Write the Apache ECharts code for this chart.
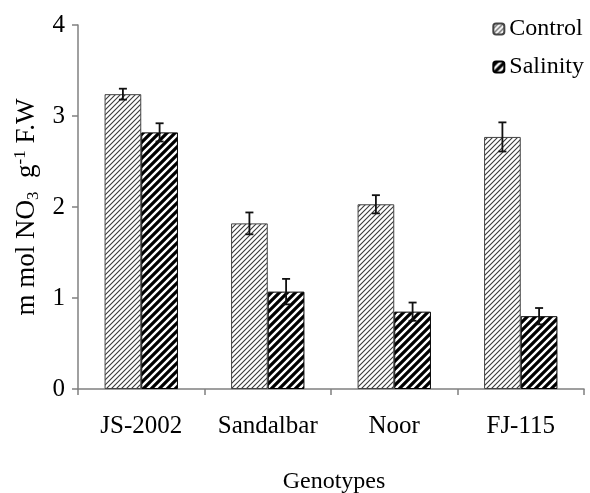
<!DOCTYPE html>
<html>
<head>
<meta charset="utf-8">
<script src="https://cdn.jsdelivr.net/npm/echarts@6/dist/echarts.min.js"></script>
<style>
html,body{margin:0;padding:0;background:#fff;}
#chart{width:590px;height:493px;}
</style>
</head>
<body>
<div id="chart"></div>
<script>
// ---- data ----
var categories = ['JS-2002', 'Sandalbar', 'Noor', 'FJ-115'];
var controlValues = [3.24, 1.82, 2.03, 2.77];
var controlErrors = [0.06, 0.12, 0.10, 0.16];
var salinityValues = [2.82, 1.07, 0.85, 0.80];
var salinityErrors = [0.10, 0.14, 0.10, 0.09];
var yTicks = [0, 1, 2, 3, 4];

// ---- pattern helpers ----
function makeHatch(size, bg, fg, lw) {
  var c = document.createElement('canvas');
  c.width = size; c.height = size;
  var ctx = c.getContext('2d');
  ctx.fillStyle = bg; ctx.fillRect(0, 0, size, size);
  ctx.strokeStyle = fg; ctx.lineWidth = lw;
  ctx.beginPath();
  ctx.moveTo(-size, size); ctx.lineTo(size, -size);
  ctx.moveTo(0, size * 2); ctx.lineTo(size * 2, 0);
  ctx.moveTo(0, size); ctx.lineTo(size, 0);
  ctx.stroke();
  return c;
}
var controlPattern = { image: makeHatch(5, '#ffffff', '#3a3a3a', 1.1), repeat: 'repeat' };
var salinityPattern = { image: makeHatch(8, '#000000', '#ffffff', 2.4), repeat: 'repeat' };

var BAR_RATIO = 0.29;
function errorSeries(name, values, errors, side) {
  var data = values.map(function (v, i) { return [i, v - errors[i], v + errors[i]]; });
  return {
    type: 'custom',
    name: name + ' err',
    z: 10,
    data: data,
    renderItem: function (params, api) {
      var band = api.size([1, 0])[0];
      var off = side * band * BAR_RATIO / 2;
      var lo = api.coord([api.value(0), api.value(1)]);
      var hi = api.coord([api.value(0), api.value(2)]);
      var x = lo[0] + off;
      var cap = 4;
      var st = { stroke: '#111', lineWidth: 1.8 };
      return {
        type: 'group',
        children: [
          { type: 'line', shape: { x1: x, y1: lo[1], x2: x, y2: hi[1] }, style: st },
          { type: 'line', shape: { x1: x - cap, y1: hi[1], x2: x + cap, y2: hi[1] }, style: st },
          { type: 'line', shape: { x1: x - cap, y1: lo[1], x2: x + cap, y2: lo[1] }, style: st }
        ]
      };
    }
  };
}

var serif = '"Liberation Serif", "DejaVu Serif", serif';
var chart = echarts.init(document.getElementById('chart'), null, { renderer: 'canvas' });
chart.setOption({
  animation: false,
  backgroundColor: '#fff',
  grid: { left: 78, right: 6, top: 25, bottom: 104, containLabel: false, outerBoundsMode: 'none' },
  legend: {
    data: ['Control', 'Salinity'],
    orient: 'vertical',
    right: 1,
    top: 12,
    itemWidth: 11,
    itemHeight: 11,
    itemGap: 14,
    textStyle: { fontFamily: serif, fontSize: 24, color: '#000' }
  },
  xAxis: {
    type: 'category',
    data: categories,
    name: 'Genotypes',
    nameLocation: 'middle',
    nameGap: 81,
    nameTextStyle: { fontFamily: serif, fontSize: 24, color: '#000', padding: [0, 0, 0, 6] },
    axisLine: { lineStyle: { color: '#808080', width: 1.5 } },
    axisTick: { show: true, length: 6, interval: 0, alignWithLabel: false, lineStyle: { color: '#808080', width: 1.5 } },
    axisLabel: { fontFamily: serif, fontSize: 25, color: '#000', margin: 25, interval: 0, hideOverlap: false }
  },
  yAxis: {
    type: 'value',
    min: yTicks[0],
    max: yTicks[yTicks.length - 1],
    interval: 1,
    name: '{a|m mol NO}{s|3}{a|  g}{p|-1}{a| F.W}',
    nameLocation: 'middle',
    nameGap: 22,
    nameTextStyle: {
      fontFamily: serif, fontSize: 27, color: '#000',
      rich: {
        a: { fontFamily: serif, fontSize: 27, color: '#000', lineHeight: 30 },
        s: { fontFamily: serif, fontSize: 17, color: '#000', verticalAlign: 'bottom', lineHeight: 30 },
        p: { fontFamily: serif, fontSize: 17, color: '#000', verticalAlign: 'top', lineHeight: 30 }
      }
    },
    axisLine: { show: true, lineStyle: { color: '#808080', width: 1.5 } },
    axisTick: { show: true, length: 6, lineStyle: { color: '#808080', width: 1.5 } },
    axisLabel: { fontFamily: serif, fontSize: 25, color: '#000', margin: 13 },
    splitLine: { show: false }
  },
  series: [
    {
      name: 'Control',
      type: 'bar',
      data: controlValues,
      barWidth: (BAR_RATIO * 100) + '%',
      barGap: '0%',
      itemStyle: { color: controlPattern, borderColor: '#444', borderWidth: 1 }
    },
    {
      name: 'Salinity',
      type: 'bar',
      data: salinityValues,
      barWidth: (BAR_RATIO * 100) + '%',
      barGap: '0%',
      itemStyle: { color: salinityPattern, borderColor: '#000', borderWidth: 1 }
    },
    errorSeries('Control', controlValues, controlErrors, -1),
    errorSeries('Salinity', salinityValues, salinityErrors, 1)
  ]
});
</script>
</body>
</html>
